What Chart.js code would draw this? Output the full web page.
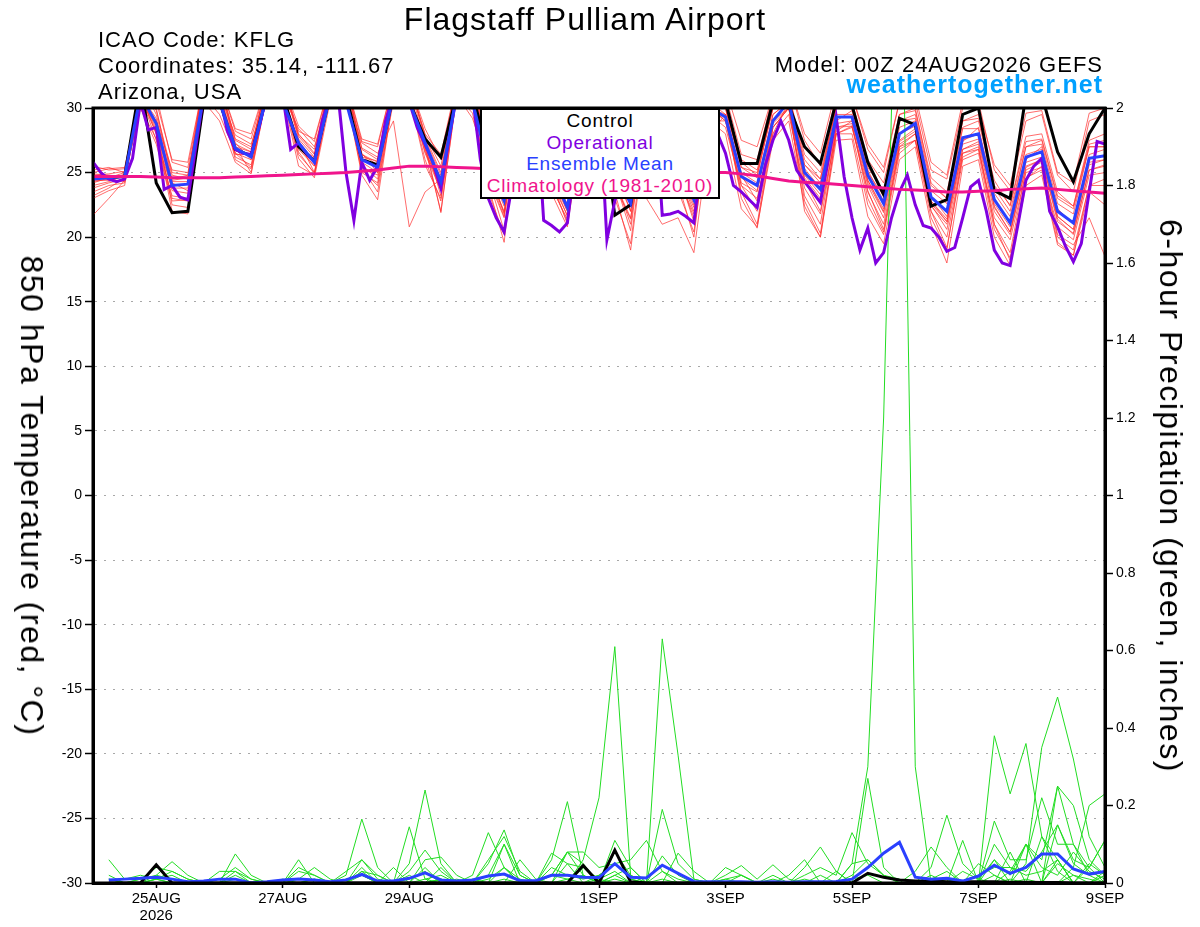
<!DOCTYPE html>
<html>
<head>
<meta charset="utf-8">
<title>Flagstaff Pulliam Airport</title>
<script src="https://cdn.jsdelivr.net/npm/chart.js@4.4.1/dist/chart.umd.min.js"></script>
<style>
  html, body { margin: 0; padding: 0; background: #fff; }
  #wrap { position: relative; width: 1200px; height: 927px; overflow: hidden;
          font-family: 'Liberation Sans', Arial, Helvetica, sans-serif; color: #000; }
  #chart { position: absolute; left: 0; top: 0; }
  .txt { position: absolute; white-space: nowrap; line-height: 1; }
  #title { left: 0; width: 1170px; top: 3px; text-align: center; font-size: 32px; letter-spacing: 1px; }
  .info { left: 98px; font-size: 22px; letter-spacing: 1px; }
  .info-r { right: 97px; text-align: right; font-size: 22px; letter-spacing: 1px; }
  #site { right: 97px; top: 72px; font-size: 25px; font-weight: bold; color: #00a0ff; letter-spacing: 1px; }
  .axis-title { position: absolute; white-space: nowrap; line-height: 1; font-size: 32px; letter-spacing: 1.5px;
                transform: translate(-50%, -50%) rotate(90deg); }
  #legend { position: absolute; left: 480px; top: 108px; width: 240px; height: 91px; box-sizing: border-box;
            border: 2px solid #000; background: #fff; text-align: center; font-size: 19px;
            letter-spacing: 0.8px; line-height: 21.5px; }
</style>
</head>
<body>
<div id="wrap">
  <canvas id="chart" width="1200" height="927"></canvas>
  <div class="txt" id="title">Flagstaff Pulliam Airport</div>
  <div class="txt info" style="top:29px">ICAO Code: KFLG</div>
  <div class="txt info" style="top:55px">Coordinates: 35.14, -111.67</div>
  <div class="txt info" style="top:81px">Arizona, USA</div>
  <div class="txt info-r" style="top:54px">Model: 00Z 24AUG2026 GEFS</div>
  <div class="txt" id="site">weathertogether.net</div>
  <div class="axis-title" style="left:32px; top:496px">850 hPa Temperature (red, °C)</div>
  <div class="axis-title" style="left:1171px; top:496px">6-hour Precipitation (green, inches)</div>
  <div id="legend">
    <div style="color:#000">Control</div>
    <div style="color:#8000e0">Operational</div>
    <div style="color:#2a40ff">Ensemble Mean</div>
    <div style="color:#f0148c">Climatology (1981-2010)</div>
  </div>
</div>
<script>
// x axis: forecast hours from 00Z 24AUG2026
const tickHours = [24, 72, 120, 192, 240, 288, 336, 384];
const tickLabels = [['25AUG', '2026'], '27AUG', '29AUG', '1SEP', '3SEP', '5SEP', '7SEP', '9SEP'];
const tempTicks = [-30, -25, -20, -15, -10, -5, 0, 5, 10, 15, 20, 25, 30];
const precipTicks = ['0', '0.2', '0.4', '0.6', '0.8', '1', '1.2', '1.4', '1.6', '1.8', '2'];

// 850 hPa temperature, 6-hourly from 00Z
const tempControl = [24.7,24.6,24.7,32, 24.2,21.9,22.0,30.5, 30.5,26.8,26.3,31, 31,27.0,25.9,31, 31,26.0,25.6,31,
  30.5,27.6,26.2,31, 31,26.5,24.5,31, 31,26.0,24.0,31, 30.5,21.7,22.5,31, 31,26.0,24.5,31, 30.5,25.7,25.7,30.5,
  30.2,27.0,25.7,30.5, 30.2,25.8,23.3,29.2, 28.7,22.4,22.9,29.5, 30.0,23.6,23.0,31, 31,26.6,24.3,28.0, 30.0];
const tempMean = [24.5,24.6,24.7,31, 28.8,24.0,24.1,31, 30.5,26.9,26.2,31, 30.5,27.3,25.8,31, 30.5,26.0,25.4,31,
  30.5,27.3,24.3,31, 30.5,25.5,22.8,30, 30.5,25.0,22.3,29.5, 30.5,25.0,22.6,30, 30.5,25.5,22.9,30, 29.3,24.7,24.0,29.0,
  30.5,25.0,23.7,29.3, 29.3,24.8,22.6,28.0, 28.8,23.1,22.0,27.7, 28.0,22.9,21.1,26.2, 26.6,22.0,21.1,26.1, 26.3];
const tempClim = [24.7,24.7,24.7,24.7, 24.65,24.6,24.6,24.6, 24.6,24.65,24.7,24.75, 24.8,24.85,24.9,24.95, 25.0,25.1,25.2,25.35,
  25.5,25.5,25.45,25.4, 25.35,25.3,25.25,25.2, 25.2,25.15,25.1,25.1, 25.05,25.05,25.0,25.0, 25.0,25.0,25.0,25.0,
  25.0,24.9,24.75,24.55, 24.35,24.25,24.2,24.1, 24.0,23.9,23.8,23.7, 23.65,23.6,23.5,23.5, 23.55,23.6,23.7,23.75,
  23.8,23.7,23.6,23.5, 23.4];
// operational run is 3-hourly
const tempOper = [25.8,25.0,24.5,24.3,24.5,26.1,30.5,28.3, 28.5,23.7,24.0,23.1,22.9,27.0,31,31,
  31,28.2,26.8,26.5,26.4,28.5,31,31, 31,26.8,27.3,26.5,25.8,29.0,31,31,
  25.0,21.3,25.8,24.4,25.5,29.0,31,31, 30.5,28.5,27.2,25.8,23.8,27.5,31,31,
  31,26.0,23.0,21.5,20.4,24.0,30.5,31, 31,21.3,20.9,20.4,21.1,26.0,31,31,
  31,19.8,22.8,25.0,26.5,30.0,31,31, 21.7,21.8,22.0,21.6,21.1,26.0,31,28.0,
  26.5,24.0,23.5,22.9,22.3,25.5,27.5,29.0, 27.5,25.2,24.3,23.5,22.7,26.0,29.3,24.7,
  21.5,19.0,20.7,18.0,18.8,21.5,23.5,24.8, 22.5,20.9,20.7,20.0,18.9,19.2,21.5,23.9,
  24.4,22.0,19.0,18.0,17.8,21.0,24.4,25.5, 26.1,22.0,20.8,19.3,18.1,19.5,23.5,27.4, 27.2];

const member01 = [24.0,24.3,24.8,32, 29.5,24.8,24.5,32, 32,27.5,26.8,32, 32,28.0,26.5,32, 32,26.8,26.0,32, 32,27.8,25.0,32, 32,26.2,23.8,31, 32,25.6,23.0,31, 32,25.8,23.5,31, 32,26.2,23.8,31, 30.5,25.8,24.8,30, 31,26.0,24.5,30.5, 30.5,25.6,23.5,29.5, 30,24.2,23.0,29, 29.5,24.0,22.5,27.8, 28,23.5,22.4,27.5, 28];
const member02 = [25.2,25.4,25.0,31, 27.5,23.2,23.0,31, 31,26.5,26.0,31, 31,26.8,25.5,31, 31,25.4,24.8,31, 31,26.5,23.6,31, 31,24.8,21.6,29.5, 31,24.0,21.2,29, 31,24.2,21.5,29.5, 31,24.6,21.8,29, 29,24.0,23.0,28.5, 30,24.2,22.6,28.5, 28.6,24.0,21.5,27.2, 28,22.4,21.0,26.8, 27.2,22.0,20.2,25.5, 26,21.2,20.3,25.2, 25.6];
const member03 = [21.7,23.0,24.4,30.5, 29.0,25.2,25.0,31, 31,27.9,27.2,31, 31,28.4,27.0,31, 31,27.3,26.5,29.0, 20.8,23.5,24.5,31, 31,26.8,24.0,31, 31,26.0,23.6,31, 31,26.2,23.8,31, 31,26.6,24.0,31, 30,25.4,25.0,30, 31,25.6,24.5,30, 30,25.4,23.6,29, 29.5,24.0,23.0,28.5, 29,23.8,22.0,27, 27.5,23.0,22.2,27, 27.0];
const member04 = [23.5,24.0,24.2,32, 30,24.4,24.6,32, 32,27.2,26.6,32, 32,27.6,26.2,32, 32,26.4,25.8,32, 32,27.6,24.8,32, 32,25.0,22.0,30.5, 32,24.6,21.6,30, 32,23.5,19.0,28.5, 32,25.0,22.3,30, 30,24.2,23.5,29.5, 30.5,24.6,23.0,29, 29.8,24.4,22.0,28.5, 29,22.8,21.2,27.4, 28.5,22.3,20.4,26, 27,21.6,20.6,25.8, 26.0];
const member05 = [24.8,24.9,25.1,31, 28.4,23.6,23.4,31, 31,26.2,25.6,31, 31,26.4,25.0,31, 31,25.4,23.5,31, 31,26.8,23.7,31, 29.6,24.0,19.6,30, 31,24.6,22.0,30, 31,25.5,23.0,23.0, 21.0,21.5,18.8,28, 29.5,23.5,21.0,28.5, 30,22.8,20.3,28, 28.5,23.5,21.0,27, 27.5,21.5,19.0,26.5, 27,21.0,18.2,24.5, 25.5,20.0,19.0,24.0, 24.5];
const member06 = [24.2,24.6,25.0,32, 31,25.8,25.4,32, 32,28.2,27.6,32, 32,28.6,27.4,32, 32,27.4,27.0,32, 32,28.4,26.0,32, 32,27.0,24.5,32, 32,26.5,24.0,32, 32,26.4,24.4,32, 32,27.0,24.5,32, 31,26.4,26.0,31, 32,27.5,25.5,31, 31,26.8,25.0,30.5, 30.5,25.2,24.5,30, 30.5,25.2,23.6,29, 29.5,24.8,23.5,29, 29.5];
const member07 = [24.6,24.7,24.6,31, 28.0,23.0,22.8,30, 31,26.0,25.3,31, 31,26.1,24.6,30.5, 31,25.2,24.0,30.5, 31,26.0,22.8,31, 31,24.5,21.5,29.5, 31,24.4,21.0,29, 31,24.5,21.0,29.5, 31,24.8,21.5,29.5, 28.5,24.0,22.0,28, 29.5,23.8,21.8,28, 28,22.5,20.2,26.5, 27.5,22.5,20.6,26.5, 26.8,21.5,19.8,25, 25.4,20.8,19.8,24.8, 25.0];
const member08 = [25.5,25.2,25.3,31, 29.2,24.3,24.3,32, 32,27.0,26.6,32, 32,27.8,26.4,32, 32,26.4,25.6,32, 32,27.0,24.6,32, 32,25.8,23.0,31, 32,25.4,22.4,31, 32,25.2,22.8,31, 32,25.8,23.2,31, 30,25.4,24.6,30.5, 31,25.6,24.2,30, 30,25.0,23.2,29, 29.2,23.6,22.6,28.4, 28.4,23.4,21.6,27, 27.2,22.6,21.8,27, 27.0];
const member09 = [23.8,24.2,24.5,31, 28.6,22.5,22.3,31, 29.5,26.5,25.4,31, 31,26.6,24.9,31, 31,24.8,22.9,31, 31,26.9,22.0,31, 31,25.2,21.8,30, 31,23.8,21.4,29.5, 31,24.0,21.4,30, 31,25.0,22.0,30, 29,23.4,22.4,28.5, 30,23.2,21.0,28.5, 28.8,23.0,20.4,27, 28,22.0,20.0,26.2, 26.8,21.0,18.8,25.2, 25.8,20.2,19.4,21.5, 18.5];
const member10 = [24.4,24.4,24.9,32, 29.8,25.0,24.8,32, 32,27.6,27.0,32, 32,27.9,26.8,32, 32,26.9,26.2,32, 32,27.9,25.5,32, 32,26.6,24.0,31, 32,25.9,23.8,31, 32,26.0,24.0,31, 32,26.4,24.2,31, 30.5,26.0,25.2,30, 31,26.4,25.0,30, 30.5,26.0,24.2,29.5, 29.8,24.6,23.5,29, 29.2,24.4,22.4,27.4, 27.6,23.2,22.4,27.2, 27.5];
const member11 = [24.9,24.8,24.7,30, 27.6,23.8,23.8,31, 31,26.8,26.2,31, 31,27.1,25.7,31, 31,25.8,25.0,31, 31,27.0,23.8,31, 29.2,25.4,22.4,30, 31,25.0,22.0,30, 31,25.0,22.0,30, 31,25.4,22.5,30, 29,24.6,23.6,29, 30,24.8,23.3,28.8, 29,24.4,22.2,27.5, 28.4,22.8,21.4,27.2, 27.6,22.6,20.8,25.8, 26.2,21.6,20.6,25.6, 26.0];
const member12 = [23.0,23.6,24.0,31, 28.2,22.0,21.8,31, 31,27.0,25.0,31, 31,27.5,25.0,31, 31,25.6,24.5,31, 31,27.2,21.9,31, 31,24.6,20.5,30, 31,24.8,22.6,30, 31,24.4,20.5,30, 31,24.2,20.0,30, 29.5,23.0,20.7,28, 30.5,22.0,20.0,28, 28.6,23.6,20.6,26.8, 27.5,22.0,19.2,26, 26.5,20.6,18.4,24.6, 25.2,19.6,18.6,23.5, 22.5];
const member13 = [24.3,24.5,24.8,32, 30.5,26.0,25.8,32, 32,28.4,28.0,32, 32,28.2,27.6,32, 32,27.6,27.2,32, 32,28.0,26.4,32, 32,27.4,25.0,32, 32,27.0,24.6,32, 32,27.2,25.0,32, 32,27.4,25.2,32, 31.5,27.5,27.0,31, 32,28.0,26.5,31.5, 31,27.2,25.4,30.5, 31,25.8,24.8,30.5, 30,25.6,24.0,29.6, 29.8,25.0,24.2,29.6, 30.0];
const member14 = [25.0,25.3,25.4,31, 28.0,24.5,24.8,31, 31,26.4,26.4,31, 31,26.9,26.2,31, 31,26.2,25.9,31, 31,26.6,24.0,31, 31,25.0,21.9,30, 31,24.2,21.7,30, 31,24.8,22.6,30, 31,25.0,21.2,29, 29.5,24.8,22.8,28.8, 30,24.4,22.0,28.2, 29,24.2,21.9,27.4, 28.2,22.6,21.2,26.8, 27.4,22.4,20.4,25.4, 26.0,21.4,20.2,25.2, 25.5];
const member15 = [23.2,23.8,24.6,30, 27.2,22.8,22.9,30.5, 29.0,25.8,24.9,31, 31,25.5,24.8,31, 31,25.0,24.2,31, 31,25.6,23.0,31, 31,23.5,20.2,29, 31,23.4,20.8,29, 31,23.0,19.5,29, 31,23.6,20.4,29, 28,22.2,20.8,27.5, 29,22.4,20.0,27.5, 27.6,21.6,19.5,26, 27,21.0,18.0,25.5, 26,20.0,17.8,24, 24.8,19.4,18.6,24, 24.0];
const member16 = [24.7,24.5,24.3,31, 29.0,24.2,23.6,31, 31,27.3,26.0,31, 31,27.0,25.5,31, 31,26.5,25.0,31, 31,27.5,23.2,31, 31,25.8,23.4,30.5, 31,25.2,22.4,30.5, 31,25.4,22.0,30.5, 31,26.0,23.0,30.5, 29.5,25.0,24.2,29.5, 30.5,25.3,23.8,29.5, 29.5,25.2,22.8,28, 28.6,23.2,21.6,27.5, 28,23.0,21.0,26.4, 26.8,22.2,21.0,26.4, 26.8];
const tempMembers = [member01, member02, member03, member04, member05, member06, member07, member08,
  member09, member10, member11, member12, member13, member14, member15, member16];

// 6-hour precipitation (inches), valid 06Z 24AUG onward
const precipControl = [0,0,0,0.047,0,0,0,0, 0,0,0,0,0,0,0,0, 0,0,0,0,0,0,0,0, 0,0,0,0,0,0,0.045,0,
  0.085,0.003,0,0,0,0,0,0, 0,0,0,0,0,0,0,0, 0.025,0.015,0.008,0.005,0.005,0.003,0.003,0.003, 0.003,0.002,0.002,0.001,0.001,0,0,0];
const precipMean = [0.008,0.01,0.012,0.015,0.01,0.003,0.005,0.01, 0.01,0,0.003,0.008,0.01,0.008,0.003,0.008,
  0.022,0.005,0.005,0.012,0.026,0.008,0.005,0.008, 0.018,0.023,0.006,0.006,0.02,0.02,0.015,0.014,
  0.05,0.015,0.013,0.046,0.025,0.004,0.003,0.003, 0.003,0.002,0.003,0.002,0.003,0.003,0.004,0.01,
  0.04,0.077,0.105,0.015,0.01,0.012,0.005,0.018, 0.046,0.025,0.04,0.075,0.075,0.036,0.023,0.03];
const precip01 = [.06,.01,.02,.01,0,0,0,.01, .01,0,0,0,0,0,0,.01, .02,0,0,.01,.03,0,0,.02, .13,.04,0,0,.02,.01,0,.01, .03,0,0,.01,0,0,0,0, 0,0,0,0,0,.02,0,.01, .02,0,0,0,.01,0,.03,.01, .06,.02,.10,.04,.02,.08,.03,.01];
const precip02 = [.02,0,.01,.02,.01,0,0,0, .03,.01,0,0,.01,.04,.01,0, .06,.01,0,0,.01,.02,0,0, .05,.137,.02,0,.04,.02,.01,.02, .05,.01,0,.07,.02,0,0,.01, .02,0,0,0,.01,0,0,.02, .06,.02,0,0,.01,.03,0,.02, .04,.04,.03,.08,.15,.06,.04,.11];
const precip03 = [0,0,.01,.04,.03,.01,0,0, .01,0,0,0,0,0,0,0, .03,.02,0,0,0,.01,0,0, .06,.12,.03,0,.02,.08,.02,0, .08,.02,0,0,0,0,0,0, 0,0,0,0,0,0,0,.05, .06,.02,.01,0,0,.01,0,0, 0,.03,.10,.06,.25,.10,.02,0];
const precip04 = [.01,0,0,.02,.055,.02,0,0, 0,0,0,.01,0,0,0,0, 0,0,0,0,0,0,.01,0, .02,.10,.02,0,0,0,0,.02, .05,.01,0,.03,.01,0,0,0, 0,0,.01,0,0,0,.03,0, 0,0,0,0,0,.01,0,0, .38,.23,.36,.12,.03,0,.05,.02];
const precip05 = [0,0,0,.01,.03,.01,0,0, 0,0,0,0,0,.01,0,0, .04,0,0,0,0,.01,0,0, .01,.04,.01,0,.06,.21,.02,0, 0,0,0,0,0,0,0,0, 0,0,0,0,0,0,0,0, 0,0,0,0,.02,0,0,0, 0,0,.05,.35,.48,.32,.12,.04];
const precip06 = [0,0,0,0,0,0,0,0, 0,0,0,0,0,0,0,0, 0,0,0,0,0,.01,0,0, 0,0,0,0,0,0,.06,.22, .61,.02,0,0,0,0,0,0, 0,0,0,0,0,0,0,0, 0,0,0,0,0,0,0,0, .02,0,.01,0,.05,.02,0,0];
const precip07 = [0,0,0,0,0,0,0,0, .075,.02,0,0,0,0,0,0, 0,0,0,.02,0,.04,0,0, 0,.01,0,0,.02,.08,.08,.04, .05,.06,.11,.03,0,0,0,0, 0,0,.02,0,0,0,0,0, 0,0,0,0,0,0,0,0, .10,.04,.02,.03,.06,0,0,.03];
const precip08 = [0,0,0,0,0,0,0,0, 0,0,0,0,.06,0,0,0, 0,0,0,0,0,0,0,0, 0,0,0,0,0,0,0,0, 0,0,0,.63,.33,.01,0,0, 0,0,0,0,0,0,0,0, 0,0,0,0,0,0,0,0, 0,.01,0,0,0,0,0,0];
const precip09 = [.01,0,0,.01,.02,0,0,.01, .04,.01,0,0,0,.01,0,.02, .165,.04,0,0,0,0,0,.01, 0,0,0,0,0,.01,.02,0, .02,0,0,.19,.05,.01,0,0, 0,0,0,0,.02,.04,.02,.13, .05,.02,0,0,0,0,0,.05, .02,0,0,0,0,.02,.01,0];
const precip10 = [0,0,0,0,0,0,0,.03, .03,0,0,0,.04,.02,0,.03, .06,.02,0,0,.04,0,0,0, 0,0,.06,.01,0,.05,.04,.01, 0,0,0,0,.077,.03,0,0, 0,0,0,0,.04,.093,.03,0, .27,.04,0,0,0,0,0,0, 0,.08,0,0,.06,0,0,.02];
const precip11 = [0,0,0,0,0,0,0,0, 0,0,0,0,0,0,0,0, 0,0,0,0,0,0,0,0, 0,0,0,0,0,0,0,0, 0,0,0,0,0,0,0,0, 0,0,0,0,0,0,0,.05, .3,1.2,2.8,.3,0,0,0,0, 0,0,0,0,0,0,0,0];
const precip12 = [0,0,0,.01,0,0,0,0, .02,0,0,0,0,0,0,0, .02,0,0,.145,.01,0,0,0, 0,.04,0,0,0,0,0,0, 0,0,0,0,0,0,0,.01, 0,0,0,0,0,0,0,0, 0,0,0,0,.04,.175,.05,.01, 0,0,0,0,0,.04,.2,.23];
const precip13 = [0,0,0,0,0,0,0,0, 0,0,0,0,.03,.02,0,0, 0,0,0,.05,.24,.05,0,0, 0,0,0,0,0,0,0,0, .01,0,0,0,0,0,0,0, .02,0,0,0,0,0,0,0, 0,0,0,0,0,0,0,0, 0,0,.1,0,.25,.2,.06,.02];
const precip14 = [0,0,0,0,0,0,0,0, 0,0,0,0,0,0,0,0, .03,0,0,.03,.085,.03,0,0, 0,0,0,0,.077,.05,0,0, 0,0,0,0,0,0,0,.02, .045,.01,.047,.01,0,0,0,0, 0,0,0,0,0,0,0,0, .16,.06,.06,.22,.1,.1,.04,0];
const precip15 = [0,0,0,0,0,0,0,0, 0,0,0,0,0,0,0,0, 0,0,0,0,.06,.067,.02,0, 0,.1,0,0,0,0,.04,0, .11,.04,0,0,0,0,0,0, 0,0,0,0,0,0,0,0, 0,0,0,0,0,0,.11,0, 0,0,0,.12,.06,0,.04,.11];
const precip16 = [0,0,0,0,0,0,0,0, 0,0,0,0,0,0,0,0, 0,0,.04,0,0,0,0,0, 0,0,0,0,0,.08,.05,0, .02,.04,0,0,0,0,0,.04, .02,0,0,.02,.06,0,0,0, 0,0,0,.03,.093,.04,0,0, .06,0,0,0,.15,.05,.02,.03];
const precipMembers = [precip01, precip02, precip03, precip04, precip05, precip06, precip07, precip08,
  precip09, precip10, precip11, precip12, precip13, precip14, precip15, precip16];

// pair each value with its forecast hour
function series(vals, startHour, stepHours) {
  return vals.map((v, i) => ({ x: startHour + i * stepHours, y: v }));
}

function line(data, color, width, axis, order) {
  return { data, borderColor: color, borderWidth: width, yAxisID: axis, order,
           pointRadius: 0, tension: 0, fill: false };
}

const datasets = [
  line(series(tempClim, 0, 6), '#f0148c', 3, 'y', 0),
  line(series(tempMean, 0, 6), '#2a40ff', 3, 'y', 1),
  line(series(tempOper, 0, 3), '#8000e0', 3, 'y', 2),
  line(series(tempControl, 0, 6), '#000000', 3, 'y', 3),
  line(series(precipMean, 6, 6), '#2a40ff', 3, 'y2', 4),
  line(series(precipControl, 6, 6), '#000000', 3, 'y2', 5)
];
precipMembers.forEach(m => datasets.push(line(series(m, 6, 6), '#22dd22', 1, 'y2', 6)));
tempMembers.forEach(m => datasets.push(line(series(m, 0, 6), 'rgba(255,45,45,0.7)', 1, 'y', 7)));

// Frame around plot area
const framePlugin = {
  id: 'frame',
  afterDatasetsDraw(chart) {
    const { ctx, chartArea: a } = chart;
    ctx.save();
    ctx.strokeStyle = '#000';
    ctx.lineWidth = 3;
    ctx.strokeRect(a.left, a.top, a.right - a.left, a.bottom - a.top);
    ctx.restore();
  }
};

Chart.defaults.font.family = "'Liberation Sans', Arial, Helvetica, sans-serif";
Chart.defaults.color = '#000';

new Chart(document.getElementById('chart'), {
  type: 'line',
  data: { datasets },
  plugins: [framePlugin],
  options: {
    responsive: false,
    animation: false,
    layout: { padding: { top: 108, left: 0, right: 0, bottom: 0 } },
    plugins: { legend: { display: false }, tooltip: { enabled: false } },
    scales: {
      x: {
        type: 'linear', position: 'bottom', min: 0, max: 384,
        afterBuildTicks: s => { s.ticks = tickHours.map(v => ({ value: v })); },
        afterFit: s => { s.height = 44; },
        ticks: { callback: (v, i) => tickLabels[i], autoSkip: false, maxRotation: 0,
                 font: { size: 15, lineHeight: 1.15 }, padding: 2, color: '#000' },
        grid: { drawOnChartArea: false, tickLength: 5, tickColor: '#000', tickWidth: 1.5 },
        border: { color: '#000', width: 3 }
      },
      y: {
        position: 'left', min: -30, max: 30,
        afterBuildTicks: s => { s.ticks = tempTicks.map(v => ({ value: v })); },
        afterFit: s => { s.width = 93; },
        ticks: { callback: v => String(v), font: { size: 14 }, padding: 3, color: '#000' },
        grid: { color: '#a8a8a8', lineWidth: 1, tickLength: 8, tickColor: '#000', tickWidth: 1.5 },
        border: { color: '#000', width: 3, dash: [2, 7] }
      },
      y2: {
        position: 'right', min: 0, max: 2,
        afterBuildTicks: s => { s.ticks = precipTicks.map(t => ({ value: parseFloat(t) })); },
        afterFit: s => { s.width = 95; },
        ticks: { callback: (v, i) => precipTicks[i], font: { size: 14 }, padding: 3, color: '#000' },
        grid: { drawOnChartArea: false, tickLength: 8, tickColor: '#000', tickWidth: 1.5 },
        border: { color: '#000', width: 3 }
      }
    }
  }
});
</script>
</body>
</html>
